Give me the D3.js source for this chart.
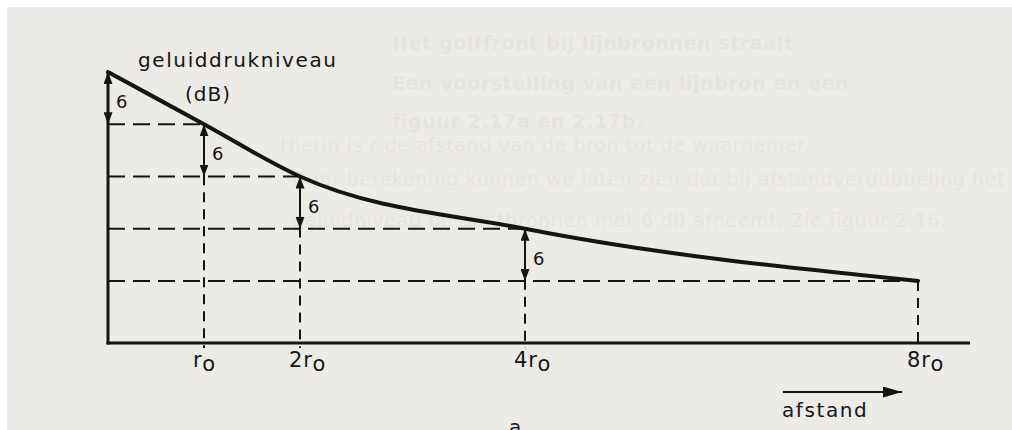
<!DOCTYPE html>
<html>
<head>
<meta charset="utf-8">
<script src="https://cdn.jsdelivr.net/npm/d3@7"></script>
<style>
  html, body { margin: 0; padding: 0; background: #ffffff; }
  svg { display: block; }
  text { font-family: "DejaVu Sans", "Liberation Sans", sans-serif; fill: #151515; }
</style>
</head>
<body>
<svg id="chart" width="1012" height="430"></svg>
<script>
// Distance from the source, in multiples of r0
const distances = [0, 1, 2, 4, 8];
// Sound pressure level (dB, relative) at each distance: 6 dB less per doubling
const levels = [30, 24, 18, 12, 6];
// Level difference written next to each double arrow
const stepValues = [6, 6, 6, 6];
// Distance ticks and their labels (prefix + r + subscript o)
const tickValues = [1, 2, 4, 8];
const tickPrefixes = ["", "2", "4", "8"];
const tickSymbol = "r";
const tickSubscript = "o";
// Titles
const yTitle = "geluiddrukniveau";
const yUnit = "(dB)";
const xTitle = "afstand";
const figureTag = "a";
// Faint text printed through from the rest of the page
const pageLines = [
  "Het golffront bij lijnbronnen straalt",
  "Een voorstelling van een lijnbron en een",
  "figuur 2.17a en 2.17b.",
  "Hierin is r de afstand van de bron tot de waarnemer.",
  "Door berekening kunnen we laten zien dat bij afstandverdubbeling het",
  "geluidniveau bij puntbronnen met 6 dB afneemt. Zie figuur 2.16."
];

const W = 1012, H = 430;
const ink = "#151515";
const svg = d3.select("#chart");

// paper
svg.append("rect").attr("width", W).attr("height", H).attr("fill", "#ffffff");
svg.append("rect").attr("x", 7).attr("y", 7).attr("width", W - 7).attr("height", H - 7)
  .attr("fill", "#edebe8");

// faint show-through text
const pageX = [392, 392, 392, 280, 292, 292];
const pageY = [50, 90, 128, 152, 186, 227];
svg.append("g").selectAll("text").data(pageLines).join("text")
  .attr("x", (d, i) => pageX[i]).attr("y", (d, i) => pageY[i])
  .attr("font-size", 19).attr("letter-spacing", 0.6)
  .attr("font-weight", (d, i) => i < 3 ? "bold" : "normal")
  .style("fill", "#e5e3df")
  .text(d => d);

// scales: the distance axis is drawn by hand, so its tick spacing is set per tick
const x = d3.scaleLinear().domain(distances).range([108, 204, 300, 525, 918]);
const y = d3.scaleLinear().domain([d3.min(levels), d3.max(levels)]).range([281, 72]);
const baseY = 343;
const axisEndX = x(d3.max(distances)) + 52;

// arrowheads
const defs = svg.append("defs");
defs.append("marker").attr("id", "head")
  .attr("viewBox", "0 0 10 10").attr("refX", 10).attr("refY", 5)
  .attr("markerUnits", "userSpaceOnUse")
  .attr("markerWidth", 12).attr("markerHeight", 9)
  .attr("preserveAspectRatio", "none")
  .attr("orient", "auto-start-reverse")
  .append("path").attr("d", "M0,0L10,5L0,10Z").attr("fill", ink);
defs.append("marker").attr("id", "headBig")
  .attr("viewBox", "0 0 10 10").attr("refX", 10).attr("refY", 5)
  .attr("markerUnits", "userSpaceOnUse")
  .attr("markerWidth", 19).attr("markerHeight", 11)
  .attr("preserveAspectRatio", "none")
  .attr("orient", "auto")
  .append("path").attr("d", "M0,0L10,5L0,10Z").attr("fill", ink);

const g = svg.append("g");

// horizontal dashed guides: level reached at each distance, back to the level axis
g.selectAll("line.hguide").data(d3.range(1, distances.length)).join("line")
  .attr("class", "hguide")
  .attr("x1", x(0)).attr("x2", i => x(distances[i]))
  .attr("y1", i => y(levels[i])).attr("y2", i => y(levels[i]))
  .attr("stroke", ink).attr("stroke-width", 2).attr("stroke-dasharray", "17,8");

// vertical dashed guides down to the distance axis (ending in a small tick)
g.selectAll("line.vguide").data(d3.range(1, distances.length)).join("line")
  .attr("class", "vguide")
  .attr("x1", i => x(distances[i])).attr("x2", i => x(distances[i]))
  .attr("y1", i => y(levels[i])).attr("y2", baseY + 5)
  .attr("stroke", ink).attr("stroke-width", 2).attr("stroke-dasharray", "10,7");

// axes
g.append("line").attr("x1", x(0)).attr("x2", x(0))
  .attr("y1", y(d3.max(levels))).attr("y2", baseY + 1.5)
  .attr("stroke", ink).attr("stroke-width", 3);
g.append("line").attr("x1", x(0) - 1.5).attr("x2", axisEndX)
  .attr("y1", baseY).attr("y2", baseY)
  .attr("stroke", ink).attr("stroke-width", 3);

// level curve
const pts = distances.map((d, i) => [d, levels[i]]);
g.append("path").datum(pts)
  .attr("d", d3.line().x(d => x(d[0])).y(d => y(d[1])).curve(d3.curveMonotoneX))
  .attr("fill", "none").attr("stroke", ink).attr("stroke-width", 4)
  .attr("stroke-linecap", "round").attr("stroke-linejoin", "round");

// double arrows: 6 dB drop between successive doublings
const steps = stepValues.map((v, i) => ({ d: distances[i], from: levels[i], to: levels[i] - v, v }));
g.selectAll("line.step").data(steps).join("line")
  .attr("class", "step")
  .attr("x1", s => x(s.d)).attr("x2", s => x(s.d))
  .attr("y1", s => y(s.from)).attr("y2", s => y(s.to))
  .attr("stroke", ink).attr("stroke-width", 2)
  .attr("marker-start", "url(#head)").attr("marker-end", "url(#head)");
g.selectAll("text.step").data(steps).join("text")
  .attr("class", "step")
  .attr("x", s => x(s.d) + 8)
  .attr("y", s => (y(s.from) + y(s.to)) / 2 + 10)
  .attr("font-size", 18)
  .text(s => s.v);

// distance tick labels
const tl = g.selectAll("text.tick").data(tickValues).join("text")
  .attr("class", "tick")
  .attr("x", d => x(d) - 11).attr("y", baseY + 24)
  .attr("font-size", 21).attr("letter-spacing", 1);
tl.append("tspan").text((d, i) => tickPrefixes[i] + tickSymbol);
tl.append("tspan").attr("dy", 4).text(tickSubscript);

// titles
g.append("text").attr("x", 138).attr("y", 67)
  .attr("font-size", 20).attr("letter-spacing", 1.6).text(yTitle);
g.append("text").attr("x", 185).attr("y", 101)
  .attr("font-size", 20).attr("letter-spacing", 1).text(yUnit);

// distance direction arrow
g.append("line").attr("x1", 783).attr("x2", 902).attr("y1", 392).attr("y2", 392)
  .attr("stroke", ink).attr("stroke-width", 2).attr("marker-end", "url(#headBig)");
g.append("text").attr("x", 782).attr("y", 417)
  .attr("font-size", 20).attr("letter-spacing", 1.6).text(xTitle);

// sub-figure tag
g.append("text").attr("x", 509).attr("y", 434).attr("font-size", 20).text(figureTag);
</script>
</body>
</html>
